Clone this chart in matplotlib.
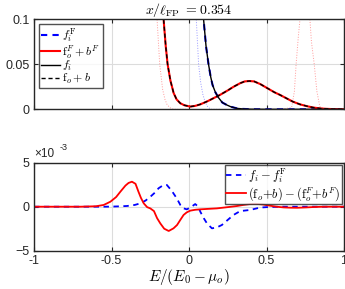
import matplotlib
matplotlib.use("Agg")
import matplotlib.pyplot as plt

plt.rcParams['font.family'] = 'Liberation Sans'
plt.rcParams['mathtext.fontset'] = 'cm'

# ---- top panel: distributions ----
E_fo = [-0.185, -0.164, -0.15, -0.138, -0.12, -0.099, -0.08, -0.056, -0.03, 0.008, 0.04,
        0.073, 0.12, 0.16, 0.2, 0.25, 0.287, 0.33, 0.36, 0.39, 0.42, 0.46, 0.5, 0.55,
        0.587, 0.62, 0.67, 0.716, 0.76, 0.8, 0.85, 0.887, 0.93, 1.0]
fo_b = [0.13, 0.1, 0.07, 0.05, 0.032, 0.018, 0.011, 0.0067, 0.0045, 0.003, 0.0038,
        0.0055, 0.009, 0.0125, 0.016, 0.021, 0.025, 0.029, 0.031, 0.0314, 0.031, 0.028,
        0.024, 0.019, 0.016, 0.013, 0.0085, 0.0055, 0.0035, 0.002, 0.0009, 0.0005, 0.0002, 0.0]

E_fi = [0.085, 0.094, 0.11, 0.126, 0.14, 0.152, 0.17, 0.19, 0.215, 0.244, 0.27, 0.31,
        0.35, 0.4, 0.5, 0.6, 0.7, 0.8, 0.9, 1.0]
fi = [0.12, 0.1, 0.07, 0.05, 0.036, 0.027, 0.019, 0.013, 0.0075, 0.0048, 0.0028, 0.001,
      0.0004, 0.0001, 0, 0, 0, 0, 0, 0]

# faint dotted reference curves
E_dot_l = [-0.215, -0.206, -0.189, -0.17, -0.155, -0.141, -0.12, -0.1, 0.0]
dot_l = [0.13, 0.1, 0.05, 0.022, 0.011, 0.005, 0.0015, 0.0, 0.0]
E_dot_r = [0.6, 0.662, 0.68, 0.691, 0.705, 0.716, 0.73, 0.75, 0.78, 0.79, 0.808, 0.825, 0.844, 0.87, 0.9]
dot_r = [0.0, 0.002, 0.02, 0.05, 0.08, 0.1, 0.13, 0.14, 0.1, 0.075, 0.05, 0.02, 0.003, 0.0005, 0.0]
E_dot_b = [0.04, 0.047, 0.062, 0.075, 0.09, 0.105, 0.12, 0.14, 0.2]
dot_b = [0.13, 0.1, 0.05, 0.03, 0.016, 0.008, 0.003, 0.0, 0.0]

# ---- bottom panel: differences (units of 1e-3) ----
E_dr = [-1, -0.7, -0.6, -0.55, -0.507, -0.47, -0.443, -0.41, -0.39, -0.368, -0.345, -0.326,
        -0.31, -0.292, -0.27, -0.249, -0.226, -0.206, -0.185, -0.16, -0.131, -0.1, -0.077,
        -0.056, -0.035, -0.015, 0.008, 0.04, 0.073, 0.12, 0.18, 0.25, 0.31, 0.35, 0.394,
        0.43, 0.478, 0.52, 0.565, 0.61, 0.65, 0.7, 0.759, 0.8, 0.85, 0.9, 1.0]
d_red = [0, 0, 0.05, 0.2, 0.57, 1.1, 1.7, 2.4, 2.7, 2.84, 2.6, 1.7, 1.0, 0.38, -0.05, -0.2,
         -0.5, -1.3, -1.9, -2.5, -2.76, -2.46, -2.08, -1.5, -0.94, -0.65, -0.45, -0.35, -0.3,
         -0.25, -0.19, -0.05, 0.08, 0.2, 0.3, 0.33, 0.25, 0.12, 0.0, -0.08, -0.11, -0.12,
         -0.08, -0.04, -0.01, 0, 0]

E_db = [-1, -0.55, -0.507, -0.45, -0.4, -0.35, -0.314, -0.28, -0.249, -0.22, -0.196, -0.17,
        -0.143, -0.111, -0.079, -0.056, -0.035, -0.014, 0.008, 0.04, 0.06, 0.073, 0.095,
        0.116, 0.148, 0.18, 0.212, 0.25, 0.287, 0.33, 0.394, 0.459, 0.5, 0.55, 0.6, 1.0]
d_blue = [0, 0, 0.01, 0.04, 0.08, 0.2, 0.38, 0.7, 1.14, 1.6, 2.1, 2.4, 2.47, 1.8, 0.95,
          0.2, -0.19, -0.3, -0.1, 0.3, 0.0, -0.57, -1.3, -1.9, -2.46, -2.35, -2.08, -1.5,
          -0.94, -0.5, -0.37, -0.1, -0.05, -0.02, 0, 0]

title = r'$x/\ell_{\rm FP}\ {=}0.354$'
xlabel = r'$E/(E_0-\mu_o)$'

fig = plt.figure(figsize=(3.45, 2.89), dpi=100)
ax1 = fig.add_axes([34 / 345, 1 - 109.3 / 289, 310 / 345, 90 / 289])
ax2 = fig.add_axes([34 / 345, 1 - 250.7 / 289, 310 / 345, 88 / 289])

edge = '#262626'
for ax in (ax1, ax2):
    ax.set_xlim(-1, 1)
    ax.set_xticks([-1, -0.5, 0, 0.5, 1])
    ax.grid(True, color='#dcdcdc', lw=0.8)
    ax.set_axisbelow(True)
    ax.tick_params(direction='in', length=3, width=0.8, top=True, right=True,
                   labelsize=9, colors=edge, pad=3)
    for s in ax.spines.values():
        s.set_color(edge)
        s.set_linewidth(1.0)

# top
ax1.plot(E_dot_l, dot_l, ':', color='#ff9999', lw=0.7)
ax1.plot(E_dot_r, dot_r, ':', color='#ff9999', lw=0.7)
ax1.plot(E_dot_b, dot_b, ':', color='#9999ff', lw=0.7)
l1, = ax1.plot(E_fi, fi, '--', color='blue', lw=1.5, dashes=(3, 2.5))
l2, = ax1.plot(E_fo, fo_b, '-', color='red', lw=1.5)
l3, = ax1.plot(E_fi, fi, '-', color='black', lw=1.0)
l4, = ax1.plot(E_fo, fo_b, '--', color='black', lw=1.0, dashes=(3, 2))
ax1.set_ylim(0, 0.1)
ax1.set_yticks([0, 0.05, 0.1])
ax1.set_yticklabels(['0', '0.05', '0.1'])
ax1.set_xticklabels([])
ax1.set_title(title, fontsize=10, pad=2)
leg1 = ax1.legend([l1, l2, l3, l4],
                  [r'$f_i^{\rm F}$', r'${\rm f}_o^F + b^F$', r'$f_i$', r'${\rm f}_o + b$'],
                  loc='upper left', fontsize=8.5, frameon=True, fancybox=False,
                  handlelength=1.6, handletextpad=0.2, borderpad=0.2, labelspacing=-0.12,
                  borderaxespad=0.4)
leg1.get_frame().set_edgecolor(edge)
leg1.get_frame().set_linewidth(1.0)

# bottom
m1, = ax2.plot(E_db, d_blue, '--', color='blue', lw=1.3, dashes=(3, 2.5))
m2, = ax2.plot(E_dr, d_red, '-', color='red', lw=1.3)
ax2.set_ylim(-5, 5)
ax2.set_yticks([-5, 0, 5])
ax2.set_xticklabels(['-1', '-0.5', '0', '0.5', '1'])
ax2.set_xlabel(xlabel, fontsize=11, labelpad=0)
ax2.text(0.0, 1.03, '×10', transform=ax2.transAxes, fontsize=8.5, color=edge,
         ha='left', va='bottom')
ax2.text(0.082, 1.12, '-3', transform=ax2.transAxes, fontsize=6.5, color=edge,
         ha='left', va='bottom')
leg2 = ax2.legend([m1, m2],
                  [r'$f_i - f_i^{\rm F}$', r'$({\rm f}_o{+}b) - ({\rm f}_o^F{+}b^F)$'],
                  loc='upper right', fontsize=9, frameon=True, fancybox=False,
                  handlelength=1.6, handletextpad=0.15, borderpad=0.1, labelspacing=0.0,
                  borderaxespad=0.2)
leg2.get_frame().set_edgecolor(edge)
leg2.get_frame().set_linewidth(1.0)

fig.savefig('out.png', dpi=100)
